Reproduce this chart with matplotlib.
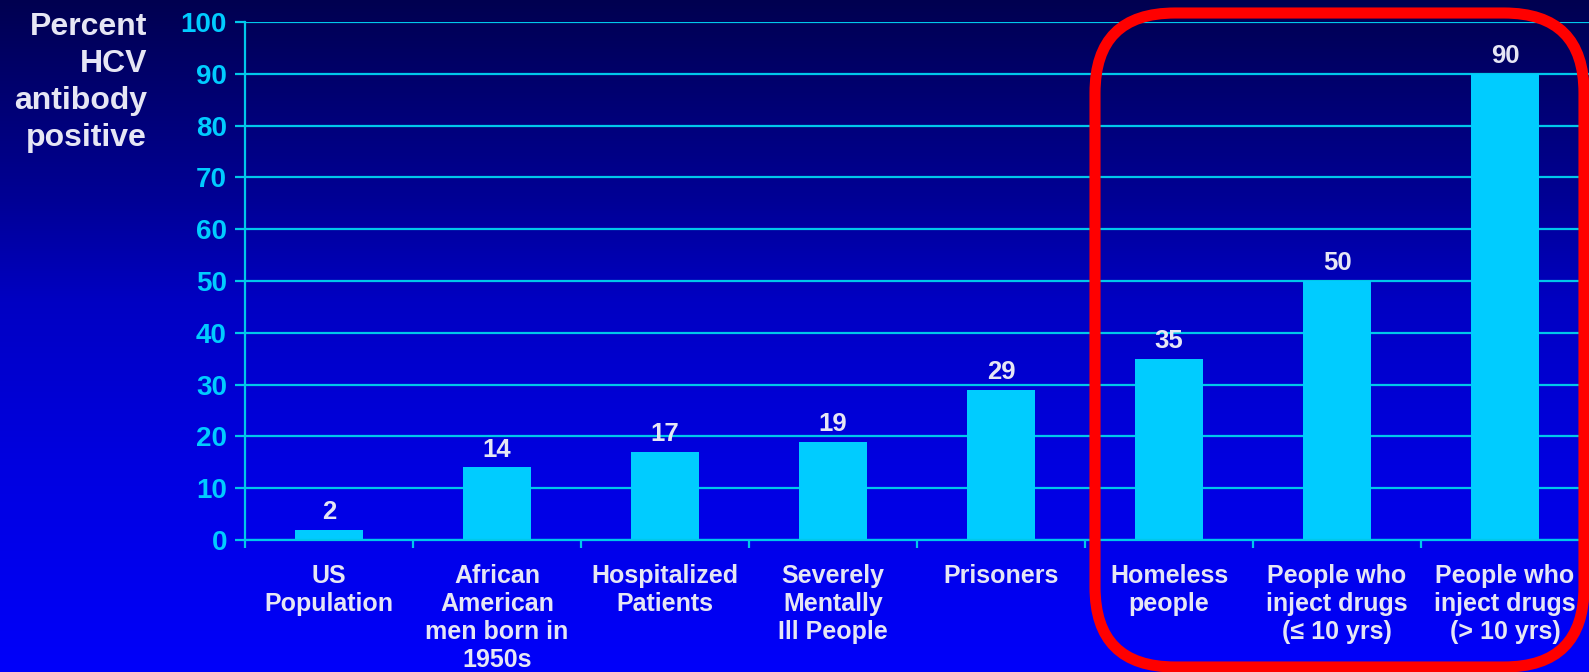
import numpy as np
import matplotlib.pyplot as plt
from matplotlib.patches import FancyBboxPatch

plt.rcParams['font.family'] = ['Liberation Sans', 'DejaVu Sans']
plt.rcParams['font.weight'] = 'bold'

# HCV antibody prevalence by population group
categories = ['US\nPopulation', 'African\nAmerican\nmen born in\n1950s', 'Hospitalized\nPatients',
              'Severely\nMentally\nIll People', 'Prisoners', 'Homeless\npeople',
              'People who\ninject drugs\n(\u2264 10 yrs)', 'People who\ninject drugs\n(> 10 yrs)']
values = [2, 14, 17, 19, 29, 35, 50, 90]
y_ticks = list(range(0, 101, 10))

CYAN = '#00ccff'
GRID = '#00c8ea'
TEXT = '#e6e6f4'
W, H = 1589, 672

fig = plt.figure(figsize=(W / 100, H / 100), dpi=100)

# vertical blue gradient background
ax_bg = fig.add_axes([0, 0, 1, 1], zorder=0)
stops = [0.0, 0.3, 0.45, 0.7, 1.0]
blues = [80, 150, 195, 225, 250]
t = np.linspace(0, 1, H)
b = np.interp(t, stops, blues) / 255.0
grad = np.zeros((H, 1, 3))
grad[:, 0, 2] = b
ax_bg.imshow(grad, aspect='auto', extent=[0, 1, 0, 1])
ax_bg.axis('off')

# main bar chart
x0 = 245
step = 169.2
ax = fig.add_axes([x0 / W, (H - 540) / H, 1 - x0 / W, 518 / H], zorder=1)
ax.set_facecolor('none')
x = np.arange(len(values))
ax.bar(x, values, width=0.40, color=CYAN, zorder=2)
ax.set_xlim(-0.5, -0.5 + (W - x0) / step)
ax.set_ylim(0, 100)
ax.set_axisbelow(True)

ax.set_yticks(y_ticks)
ax.yaxis.grid(True, color=GRID, lw=1.6)
for s in ['top', 'right']:
    ax.spines[s].set_visible(False)
for s in ['left', 'bottom']:
    ax.spines[s].set_color(GRID)
    ax.spines[s].set_linewidth(1.6)

ax.tick_params(axis='y', colors=GRID, labelcolor=CYAN, length=7, width=1.6, pad=6,
               labelsize=20)
ax.set_xticks(np.arange(len(values) + 1) - 0.5)
ax.set_xticklabels([])
ax.set_xticks(x, minor=True)
ax.set_xticklabels(categories, minor=True, color=TEXT, fontsize=18, linespacing=1.22,
                   va='top')
ax.tick_params(axis='x', which='major', colors=GRID, length=6, width=1.6, direction='out')
ax.tick_params(axis='x', which='minor', length=0, pad=17)

for xi, v in zip(x, values):
    ax.annotate(str(v), (xi, v), xytext=(0, 4), textcoords='offset points',
                ha='center', va='bottom', color=TEXT, fontsize=18.5)

fig.text(147 / W, 1 - 12 / H, 'Percent\nHCV\nantibody\npositive', ha='right', va='top',
         multialignment='right', color=TEXT, fontsize=23, linespacing=1.3)

# red highlight frame around the last three groups
ax_ov = fig.add_axes([0, 0, 1, 1], zorder=5)
ax_ov.set_xlim(0, W)
ax_ov.set_ylim(H, 0)
ax_ov.axis('off')
ax_ov.patch.set_alpha(0)
frame = FancyBboxPatch((1095, 13), 489, 654, boxstyle='round,pad=0,rounding_size=80',
                       fill=False, ec='#ff0000', lw=8)
ax_ov.add_patch(frame)

fig.savefig('out.png', dpi=100)
